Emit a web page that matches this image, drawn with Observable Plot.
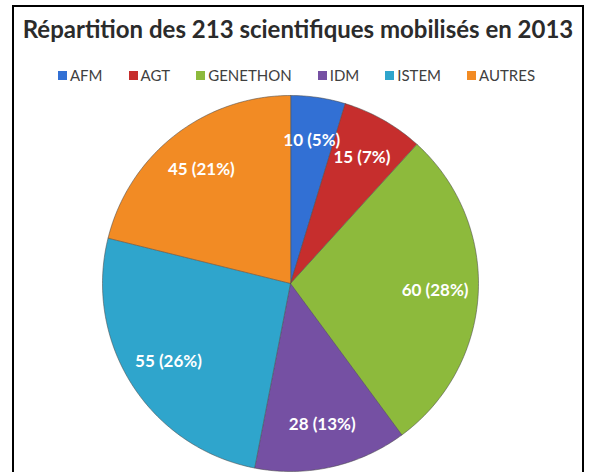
<!DOCTYPE html>
<html><head><meta charset="utf-8">
<script src="https://cdn.jsdelivr.net/npm/d3@7"></script>
<script src="https://cdn.jsdelivr.net/npm/@observablehq/plot@0.6"></script>
<style>
body{margin:0;background:#fff;}
#wrap{position:relative;width:593px;height:472px;overflow:hidden;font-family:Lato,sans-serif;}
#frame{position:absolute;left:12px;top:5px;width:568px;height:520px;border:2px solid #000;}
#title{position:absolute;left:12px;width:572px;top:17px;text-align:center;font-weight:700;font-size:24px;line-height:24px;color:#2b2b2b;white-space:nowrap;}
#legend{position:absolute;left:0;width:593px;top:68px;display:flex;justify-content:center;gap:26px;font-size:15px;line-height:15px;color:#404040;}
.item{display:flex;align-items:center;gap:3px}
.sw{width:9px;height:9px;display:inline-block}
#chart{position:absolute;left:0;top:88px;}
</style></head><body>
<div id="wrap"><div id="frame"></div><div id="title"></div><div id="legend"></div><div id="chart"></div></div>
<script>
const categories = ["AFM", "AGT", "GENETHON", "IDM", "ISTEM", "AUTRES"];
const values = [10, 15, 60, 28, 55, 45];
const colors = ["#3270d4", "#c62e2d", "#8dba3c", "#7550a3", "#2fa5cc", "#f28b24"];
const titleText = "Répartition des 213 scientifiques mobilisés en 2013";

document.getElementById("title").textContent = titleText;
const legend = document.getElementById("legend");
categories.forEach((c, i) => {
  const it = document.createElement("div"); it.className = "item";
  const sw = document.createElement("span"); sw.className = "sw"; sw.style.background = colors[i];
  const tx = document.createElement("span"); tx.textContent = c;
  it.appendChild(sw); it.appendChild(tx); legend.appendChild(it);
});

const data = categories.map((name, i) => ({name, value: values[i]}));
const total = d3.sum(values);
const arcs = d3.pie().sort(null).value(d => d.value)(data);
const toXY = (a, r) => [r * Math.sin(a), -r * Math.cos(a)];
const features = arcs.map(a => {
  const n = Math.max(2, Math.ceil((a.endAngle - a.startAngle) / (Math.PI / 180)));
  const ring = [[0, 0]];
  for (let i = 0; i <= n; i++) ring.push(toXY(a.startAngle + (a.endAngle - a.startAngle) * i / n, 1));
  ring.push([0, 0]);
  return {type: "Feature", properties: {name: a.data.name}, geometry: {type: "Polygon", coordinates: [ring]}};
});
const labels = arcs.map(a => {
  const m = (a.startAngle + a.endAngle) / 2;
  const [x, y] = toXY(m, 0.77);
  return {x, y, label: `${a.data.value} (${Math.round(a.data.value / total * 100)}%)`};
});

const chart = Plot.plot({
  width: 593, height: 384,
  marginLeft: 102, marginRight: 115, marginTop: 7, marginBottom: 1,
  projection: {type: "identity", domain: {type: "MultiPoint", coordinates: [[-1, -1], [1, 1]]}},
  color: {domain: categories, range: colors},
  marks: [
    Plot.geo(features, {fill: d => d.properties.name, stroke: "#4a4a4a", strokeOpacity: 0.55, strokeWidth: 1}),
    Plot.text(labels, {x: "x", y: "y", text: "label", fill: "white", fontWeight: 700, fontSize: 17, fontFamily: "Lato"})
  ]
});
document.getElementById("chart").appendChild(chart);
</script>
</body></html>
